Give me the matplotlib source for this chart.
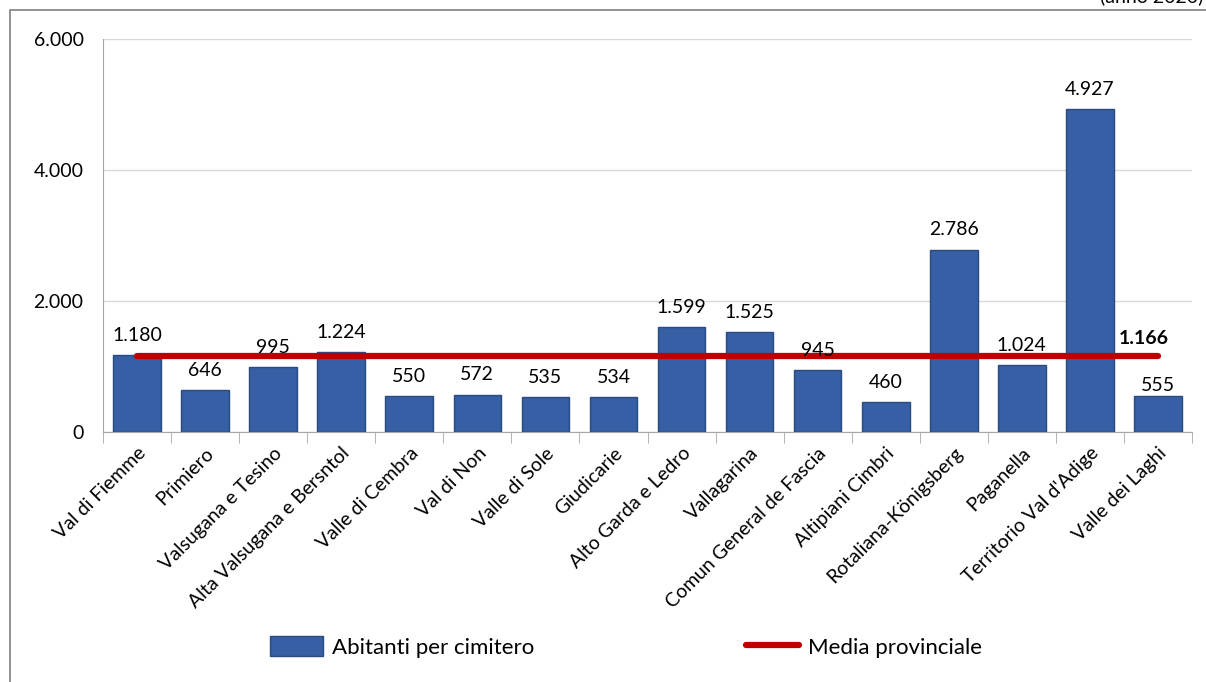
import matplotlib.pyplot as plt
from matplotlib.patches import Rectangle
from matplotlib.lines import Line2D
from matplotlib.patches import Patch

categories = ["Val di Fiemme", "Primiero", "Valsugana e Tesino", "Alta Valsugana e Bersntol",
              "Valle di Cembra", "Val di Non", "Valle di Sole", "Giudicarie",
              "Alto Garda e Ledro", "Vallagarina", "Comun General de Fascia",
              "Altipiani Cimbri", "Rotaliana-Königsberg", "Paganella",
              "Territorio Val d'Adige", "Valle dei Laghi"]
abitanti = [1180, 646, 995, 1224, 550, 572, 535, 534, 1599, 1525, 945, 460, 2786, 1024, 4927, 555]
media = 1166
yticks = [0, 2000, 4000, 6000]

def fmt(v):
    return f"{v:,}".replace(",", ".")

plt.rcParams['font.family'] = ['Lato', 'DejaVu Sans']

fig = plt.figure(figsize=(12.06, 6.82), dpi=100)
ax = fig.add_axes([103/1206, 1 - 432/682, (1192-103)/1206, (432-39)/682])

x = list(range(len(categories)))
ax.bar(x, abitanti, width=0.7, color="#365FA5", edgecolor="#2A4A80", linewidth=1.0, zorder=3)
ax.plot([x[0], x[-1]], [media, media], color="#C00000", linewidth=4.5,
        solid_capstyle='round', zorder=4)

for xi, v in zip(x, abitanti):
    off = 1 if v == abitanti[-1] else 8
    ax.annotate(fmt(v), (xi, v), xytext=(0, off), textcoords='offset points',
                ha='center', va='bottom', fontsize=14, zorder=5)
ax.annotate(fmt(media), (x[-1], media), xytext=(-10, 6), textcoords='offset points',
            ha='center', va='bottom', fontsize=14, fontweight='bold', zorder=5)

ax.set_xlim(-0.5, len(categories) - 0.5)
ax.set_ylim(0, 6000)
ax.set_yticks(yticks)
ax.set_yticklabels([fmt(t) for t in yticks], fontsize=14)
ax.tick_params(axis='y', length=0, pad=14)
ax.grid(axis='y', color="#D9D9D9", linewidth=1, zorder=0)

ax.set_xticks(x)
ax.set_xticklabels(categories, rotation=45, ha='right', rotation_mode='anchor', fontsize=14)
ax.tick_params(axis='x', length=0, pad=9)
ax.set_xticks([i - 0.5 for i in range(len(categories) + 1)], minor=True)
ax.tick_params(axis='x', which='minor', length=8, color="#A6A6A6")

for s in ['top', 'right']:
    ax.spines[s].set_visible(False)
for s in ['left', 'bottom']:
    ax.spines[s].set_color("#A6A6A6")

fig.patches.append(Rectangle((10/1206, -0.1), 1.2, 1 - 10/682 + 0.1, transform=fig.transFigure,
                             fill=False, edgecolor="#808080", linewidth=1.2))
fig.text(1100/1206, 1 - 5/682, "(anno 2020)", fontsize=14, va='bottom', ha='left')

handles = [Patch(facecolor="#365FA5", edgecolor="#2A4A80"),
           Line2D([0], [0], color="#C00000", linewidth=4.5, solid_capstyle='round')]
fig.legend(handles, ["Abitanti per cimitero", "Media provinciale"], loc='center',
           bbox_to_anchor=(626/1206, 1 - 647/682), ncol=2, frameon=False, fontsize=16,
           columnspacing=9.5, handlelength=2.4, handleheight=1.0, handletextpad=0.4)

fig.savefig("out.png", dpi=100)
